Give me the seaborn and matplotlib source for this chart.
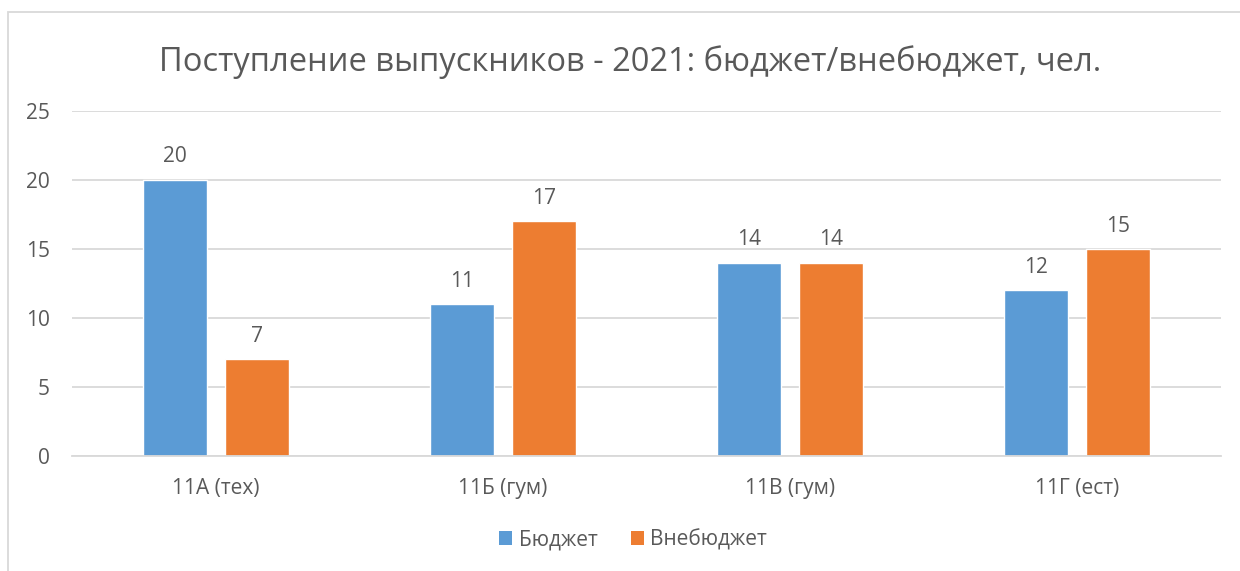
import matplotlib
matplotlib.use("Agg")
import matplotlib.pyplot as plt
import seaborn as sns
import pandas as pd
from matplotlib.patches import Rectangle, Patch

categories = ["11А (тех)", "11Б (гум)", "11В (гум)", "11Г (ест)"]
series_names = ["Бюджет", "Внебюджет"]
budget = [20, 11, 14, 12]
nonbudget = [7, 17, 14, 15]
colors = ["#5B9BD5", "#ED7D31"]
title = "Поступление выпускников - 2021: бюджет/внебюджет, чел."

df = pd.DataFrame({
    "cat": categories * 2,
    "series": [series_names[0]] * 4 + [series_names[1]] * 4,
    "value": budget + nonbudget,
})

sns.set_theme(style="white")
plt.rcParams['font.family'] = ['Open Sans', 'DejaVu Sans']
txt = "#595959"

fig = plt.figure(figsize=(12.4, 5.71), dpi=100)
ax = fig.add_axes([72/1240, 1-456/571, (1221-72)/1240, (456-111)/571])

sns.barplot(data=df, x="cat", y="value", hue="series", palette=colors,
            width=0.571, gap=0.22, ax=ax, legend=False, saturation=1)

ax.set_ylim(0, 25)
ax.set_xlim(-0.5, 3.5)
ax.set_yticks(range(0, 26, 5))
ax.yaxis.grid(True, color="#D9D9D9", linewidth=1.3)
ax.set_axisbelow(True)
for s in ["top", "right", "left"]:
    ax.spines[s].set_visible(False)
ax.spines["bottom"].set_color("#D9D9D9")
ax.spines["bottom"].set_linewidth(1.3)
ax.set_xlabel("")
ax.set_ylabel("")
ax.tick_params(axis="both", length=0, labelsize=15, colors=txt)
ax.tick_params(axis="y", pad=16)
ax.tick_params(axis="x", pad=16)

for cont in ax.containers:
    ax.bar_label(cont, padding=9, fontsize=15, color=txt)

fig.text(630/1240, 1-62/571, title, ha="center", va="center", fontsize=23.5, color=txt)

handles = [Patch(facecolor=c, edgecolor="none") for c in colors]
fig.legend(handles, series_names, loc="center", bbox_to_anchor=(633/1240, 1-540/571),
           ncol=2, frameon=False, fontsize=15, labelcolor=txt, handlelength=0.65,
           handleheight=0.65, handletextpad=0.3, columnspacing=1.6)

fig.patches.append(Rectangle((8/1240, -0.1), 1.2, 1-12/571+0.1, transform=fig.transFigure,
                             fill=False, edgecolor="#D9D9D9", linewidth=1.3))

fig.savefig("out.png", dpi=100)
